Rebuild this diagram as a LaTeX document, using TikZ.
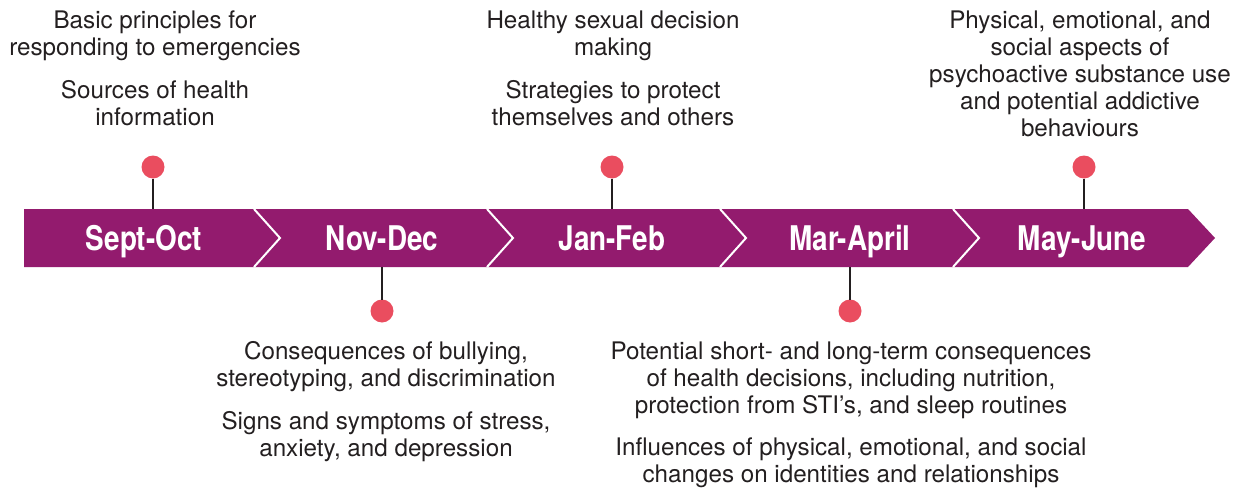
\documentclass[tikz,border=0pt]{standalone}
\usepackage{fontspec}
\usepackage{tikz,tkz-graph}
\setmainfont{TeX Gyre Heros}
\newfontfamily\monthfont[FakeStretch=0.82]{TeX Gyre Heros}
\definecolor{bandPurple}{HTML}{931B6E}
\definecolor{pinRed}{HTML}{EA4D5F}
\definecolor{inkGray}{HTML}{231F20}
\tikzstyle{pinStyle}=[shape = circle, minimum size = 11.5pt, inner sep = 0pt, fill = pinRed]
\tikzstyle{monthStyle}=[anchor = base, inner sep = 0pt, text = white, font = \monthfont\bfseries\fontsize{17}{20}\selectfont]
\tikzstyle{topicStyle}=[anchor = north, inner sep = 0pt, align = center, text = inkGray, font = \fontsize{12.1}{13.5}\selectfont]

\begin{document}
\begin{tikzpicture}[x = 0.5pt, y = 0.5pt]
\tikzstyle{VertexStyle} = []
\tikzstyle{EdgeStyle} = []
\tikzstyle{stemStyle}=[draw = inkGray, line width = 0.65pt]
\tikzstyle{sepLine}=[draw = white, line width = 1pt]
\useasboundingbox (0,0) rectangle (1250,489);
% the band
\fill[bandPurple] (24,222) -- (24,280) -- (1188,280) -- (1215,251) -- (1188,222) -- cycle;
\foreach \xs in {254,487,720,953}
  \draw[sepLine] (\xs,280) -- (\xs+26,251) -- (\xs,222);
\node[monthStyle] (m1) at (144,239) {Sept-Oct};
\node[monthStyle] (m2) at (382,239) {Nov-Dec};
\node[monthStyle] (m3) at (612,239) {Jan-Feb};
\node[monthStyle] (m4) at (850,239) {Mar-April};
\node[monthStyle] (m5) at (1082,239) {May-June};
% pins
\coordinate (s1) at (153,280);
\coordinate (s2) at (382,222);
\coordinate (s3) at (612,280);
\coordinate (s4) at (850,222);
\coordinate (s5) at (1084,280);
\Vertex[style = pinStyle, x = 153, y = 322, NoLabel]{p1}
\Vertex[style = pinStyle, x = 382, y = 178, NoLabel]{p2}
\Vertex[style = pinStyle, x = 612, y = 322, NoLabel]{p3}
\Vertex[style = pinStyle, x = 850, y = 178, NoLabel]{p4}
\Vertex[style = pinStyle, x = 1084, y = 322, NoLabel]{p5}
\Edge[style = stemStyle](p1)(s1)
\Edge[style = stemStyle](p2)(s2)
\Edge[style = stemStyle](p3)(s3)
\Edge[style = stemStyle](p4)(s4)
\Edge[style = stemStyle](p5)(s5)
% topics
\node[topicStyle] (t1) at (155,479) {Basic principles for\\responding to emergencies\\[8pt]Sources of health\\information};
\node[topicStyle] (t2) at (386,148) {Consequences of bullying,\\stereotyping, and discrimination\\[8pt]Signs and symptoms of stress,\\anxiety, and depression};
\node[topicStyle] (t3) at (613,479) {Healthy sexual decision\\making\\[8pt]Strategies to protect\\themselves and others};
\node[topicStyle] (t4) at (851,148) {Potential short- and long-term consequences\\of health decisions, including nutrition,\\protection from STI’s, and sleep routines\\[7.5pt]Influences of physical, emotional, and social\\changes on identities and relationships};
\node[topicStyle] (t5) at (1080,479) {Physical, emotional, and\\social aspects of\\psychoactive substance use\\and potential addictive\\behaviours};
\end{tikzpicture}
\end{document}
